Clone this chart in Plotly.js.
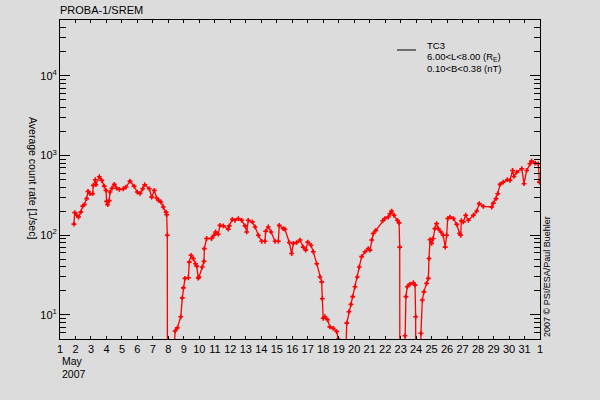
<!DOCTYPE html>
<html>
<head>
<meta charset="utf-8">
<script src="https://cdn.plot.ly/plotly-3.0.1.min.js"></script>
<style>html,body{margin:0;padding:0;background:#dcdcdc;}#chart{width:600px;height:400px;}</style>
</head>
<body>
<div id="chart"></div>
<script>
// Day of May 2007 (fractional) and average count rate [1/sec]; 1 = below axis (no counts)
const days = [
  1.90,1.95,2.08,2.20,2.34,2.47,2.57,2.72,2.81,2.94,3.11,3.15,3.28,3.32,3.54,3.69,3.86,3.97,4.01,4.08,
  4.18,4.23,4.36,4.51,4.66,4.83,5.09,5.26,5.52,5.78,5.99,6.17,6.34,6.47,6.77,6.92,7.09,7.24,7.37,7.52,
  7.67,7.85,7.89,7.93,7.94,8.30,8.43,8.58,8.80,8.90,8.97,9.07,9.29,9.35,9.46,9.61,9.75,9.83,9.93,9.98,
  10.19,10.30,10.32,10.47,10.79,10.95,11.05,11.22,11.33,11.55,11.87,11.93,12.13,12.30,12.52,12.73,12.95,13.06,13.16,13.42,
  13.60,13.81,14.03,14.24,14.28,14.45,14.63,14.89,15.10,15.16,15.42,15.53,15.81,15.96,16.07,16.28,16.50,16.71,16.87,17.00,
  17.21,17.36,17.58,17.79,17.90,17.94,18.00,18.11,18.28,18.43,18.65,18.87,18.97,19.05,19.38,19.52,19.66,19.79,19.90,20.05,
  20.20,20.33,20.48,20.70,20.91,21.02,21.13,21.23,21.40,21.84,21.98,22.20,22.31,22.42,22.57,22.79,22.90,22.94,22.95,23.22,
  23.28,23.34,23.43,23.60,23.82,23.93,23.97,23.98,24.28,24.31,24.40,24.50,24.68,24.79,24.83,24.90,25.00,25.10,25.21,25.32,
  25.43,25.60,25.75,25.88,25.97,26.04,26.19,26.41,26.62,26.80,26.88,26.92,27.05,27.20,27.37,27.70,27.91,28.08,28.34,28.88,
  28.99,29.16,29.27,29.42,29.63,29.89,30.06,30.23,30.32,30.50,30.82,30.97,31.14,31.35,31.46,31.68,31.89,31.96
];
const rates = [
  138,192,178,169,195,232,242,288,355,332,332,422,497,430,542,487,413,365,266,242,
  272,348,389,434,389,376,383,402,477,413,348,335,383,430,383,301,365,293,274,261,
  226,195,181,100,1,1,6.3,6.9,9.5,16.4,21.9,28.8,29.3,46,56,51,44,41,29,30,
  40,47,68,91,91,100,110,103,133,131,119,131,158,154,162,154,131,110,154,147,
  127,100,84,84,112,127,110,84,84,133,121,119,81,59,79,81,87,71,65,82,
  75,62,44,30,26,16,9.1,9.5,8.7,7.1,6.8,6.2,5.0,1,1,7.9,11,13.6,17,22.6,
  30,40,54,62,68,65,87,105,115,152,162,169,186,201,178,154,143,71,1,1,
  5.5,17,22.6,24.4,25.4,23.7,9.5,1,1,5.9,15.4,19.5,24.9,28.8,51,88,79,91,121,140,
  121,110,100,71,100,162,169,162,137,105,100,152,147,178,154,178,201,249,230,226,
  253,288,332,434,463,497,487,649,546,617,682,443,649,787,851,802,787,463
];
const xTickVals = Array.from({length: 32}, (_, i) => i + 1);
const xTickText = ["1","2","3","4","5","6","7","8","9","10","11","12","13","14","15","16",
  "17","18","19","20","21","22","23","24","25","26","27","28","29","30","31","1"];
const yTickVals = [10, 100, 1000, 10000];
const yTickText = ["10<sup>1</sup>","10<sup>2</sup>","10<sup>3</sup>","10<sup>4</sup>"];
const yMinor = [];
for (let d = 1; d <= 10000; d *= 10) for (let k = 2; k <= 9; k++) yMinor.push(k * d);

const FONT = "Liberation Sans, Arial, sans-serif";
const trace = {
  x: days, y: rates, type: "scatter", mode: "lines+markers",
  line: {color: "#ff0000", width: 1.3},
  marker: {color: "#ff0000", symbol: "cross", size: 4},
  cliponaxis: true, showlegend: false, hoverinfo: "skip"
};
const legX = (425-60)/480;
const layout = {
  width: 600, height: 400,
  paper_bgcolor: "#dcdcdc", plot_bgcolor: "#dcdcdc",
  margin: {l: 60, r: 60, t: 20, b: 61},
  font: {family: FONT, size: 11, color: "#000"},
  title: {text: "PROBA-1/SREM", x: 60/600, xref: "container", xanchor: "left",
          y: 1 - 10/400, yref: "container", yanchor: "middle", font: {family: FONT, size: 11, color: "#000"}},
  showlegend: false,
  xaxis: {range: [1, 32], tickmode: "array", tickvals: xTickVals, ticktext: xTickText,
          ticks: "inside", ticklen: 3, tickcolor: "#000", showline: true, linecolor: "#000", linewidth: 1,
          mirror: "ticks", showgrid: false, zeroline: false, tickfont: {size: 11}},
  yaxis: {type: "log", range: [Math.log10(5), Math.log10(50000)], tickmode: "array",
          tickvals: yTickVals, ticktext: yTickText, ticks: "inside", ticklen: 10, tickcolor: "#000",
          showline: true, linecolor: "#000", linewidth: 1, mirror: "ticks", showgrid: false, zeroline: false,
          tickfont: {size: 11},
          minor: {tickmode: "array", tickvals: yMinor, ticks: "inside", ticklen: 6, tickcolor: "#000", showgrid: false}},
  shapes: [
    {type: "line", xref: "paper", yref: "paper", x0: (397-60)/480, x1: (416-60)/480,
     y0: (339-50)/319, y1: (339-50)/319, line: {color: "#000", width: 1}}
  ],
  annotations: [
    {text: "TC3", xref: "paper", yref: "paper", x: legX, y: (339-46)/319, xanchor: "left", yanchor: "middle", showarrow: false, font: {size: 9.5}},
    {text: "6.00&lt;L&lt;8.00 (R<sub>E</sub>)", xref: "paper", yref: "paper", x: legX, y: (339-57)/319, xanchor: "left", yanchor: "middle", showarrow: false, font: {size: 9.5}},
    {text: "0.10&lt;B&lt;0.38 (nT)", xref: "paper", yref: "paper", x: legX, y: (339-68)/319, xanchor: "left", yanchor: "middle", showarrow: false, font: {size: 9.5}},
    {text: "May", xref: "paper", yref: "paper", x: 0, y: (339-361)/319, xanchor: "left", yanchor: "middle", showarrow: false, font: {size: 10.5}},
    {text: "2007", xref: "paper", yref: "paper", x: 0, y: (339-374)/319, xanchor: "left", yanchor: "middle", showarrow: false, font: {size: 10.5}},
    {text: "Average count rate [1/sec]", xref: "paper", yref: "paper", x: (33-60)/480, y: (339-178)/319, xanchor: "center", yanchor: "middle", textangle: 90, showarrow: false, font: {size: 10.5}},
    {text: "2007 © PSI/ESA/Paul Buehler", xref: "paper", yref: "paper", x: (547-60)/480, y: (339-277)/319, xanchor: "center", yanchor: "middle", textangle: -90, showarrow: false, font: {size: 9}}
  ]
};
Plotly.newPlot("chart", [trace], layout, {staticPlot: true, displayModeBar: false});
</script>
</body>
</html>
